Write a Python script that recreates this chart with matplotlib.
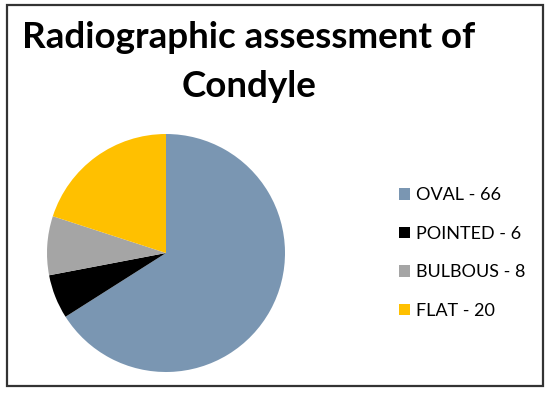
import matplotlib.pyplot as plt
from matplotlib.patches import Rectangle, Patch

# pie data
categories = ["OVAL", "POINTED", "BULBOUS", "FLAT"]
counts = [66, 6, 8, 20]
colors = ["#7A96B2", "#000000", "#A5A5A5", "#FFC000"]
labels = [f"{c} - {n}" for c, n in zip(categories, counts)]

W, H = 550, 394
fig = plt.figure(figsize=(W / 100, H / 100), dpi=100)

# outer frame
fig.patches.append(Rectangle((7 / W, 1 - 386 / H), 536 / W, 381 / H,
                             transform=fig.transFigure, fill=False,
                             edgecolor="#333333", linewidth=1.6))

# pie centred at (166, 253) px, radius 119 px
cx, cy, r = 166, 253, 119
ax = fig.add_axes([(cx - r) / W, (H - cy - r) / H, 2 * r / W, 2 * r / H])
ax.pie(counts, colors=colors, startangle=90, counterclock=False,
       wedgeprops=dict(linewidth=0))
ax.set_xlim(-1, 1)
ax.set_ylim(-1, 1)
ax.set_aspect("equal")
ax.axis("off")

fig.text(249 / W, 1 - 48 / H, "Radiographic assessment of", ha="center",
         va="baseline", fontsize=26.5, fontweight="bold", family="Lato")
fig.text(249 / W, 1 - 97 / H, "Condyle", ha="center",
         va="baseline", fontsize=26.5, fontweight="bold", family="Lato")

handles = [Patch(facecolor=c, edgecolor="none") for c in colors]
fig.legend(handles, labels, loc="center left",
           bbox_to_anchor=(383 / W, 1 - 253 / H), frameon=False,
           prop=dict(family="Lato", size=13),
           handlelength=0.6, handleheight=0.6, handletextpad=0.35,
           labelspacing=1.25)

fig.savefig("out.png", dpi=100)
